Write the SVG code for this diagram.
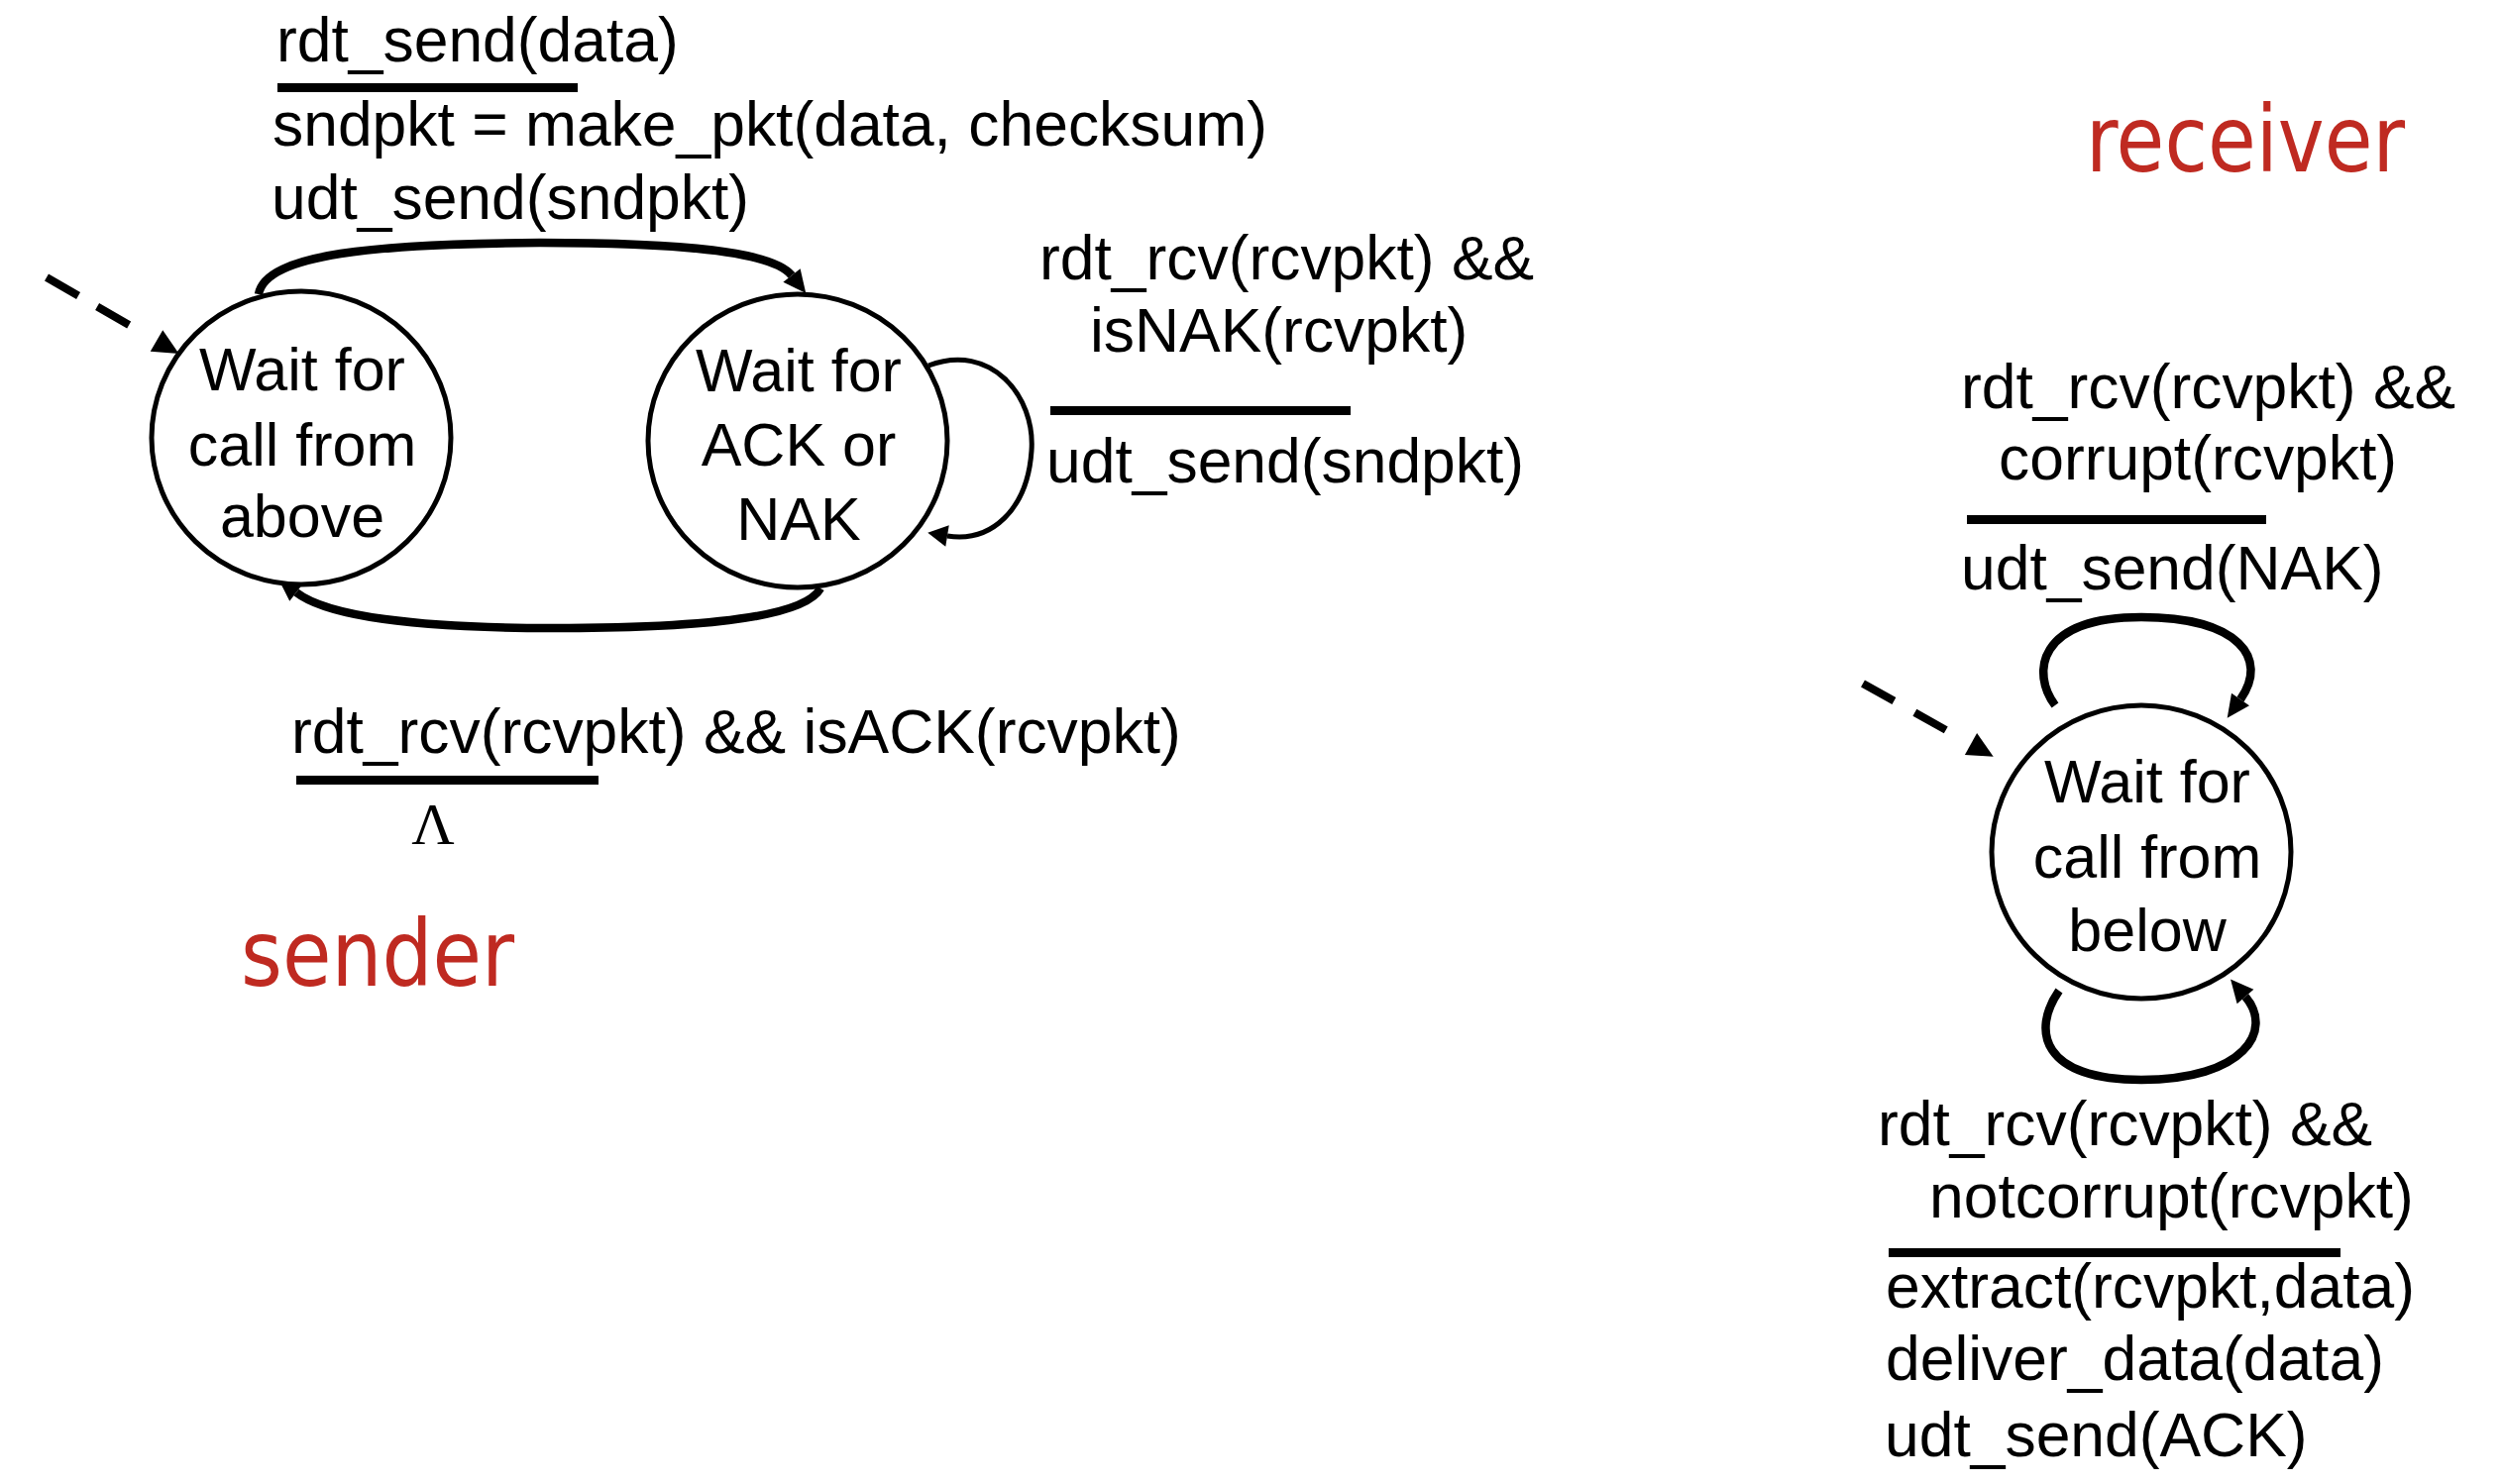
<svg xmlns="http://www.w3.org/2000/svg" width="2526" height="1498" viewBox="0 0 2526 1498">
  <style>
    .state { fill: #ffffff; stroke: #000000; stroke-width: 5; }
    .stext { font-family: "Liberation Sans", Arial, sans-serif; font-size: 61px; fill: #000000; text-anchor: middle; }
    .label { font-family: "Liberation Sans", Arial, sans-serif; font-size: 62.4px; fill: #000000; }
    .lambda { font-family: "Liberation Serif", "Times New Roman", serif; font-size: 60px; fill: #000000; text-anchor: middle; }
    .title { font-family: "DejaVu Sans Condensed", "DejaVu Sans", sans-serif; font-size: 92px; fill: #BF2A21; }
    .bar { fill: #000000; }
    .thick { fill: none; stroke: #000000; stroke-width: 8.5; }
    .thin { fill: none; stroke: #000000; stroke-width: 5; }
    .dash { fill: none; stroke: #000000; stroke-width: 8; }
  </style>
  <defs>
    <marker id="ah-thick" markerUnits="userSpaceOnUse" viewBox="0 -12 24 24" markerWidth="24" markerHeight="24" refX="0" refY="0" orient="auto" overflow="visible">
      <path d="M0,-11 L23,0 L0,11 z" fill="#000000"/>
    </marker>
    <marker id="ah-thin" markerUnits="userSpaceOnUse" viewBox="0 -12 24 24" markerWidth="24" markerHeight="24" refX="0" refY="0" orient="auto" overflow="visible">
      <path d="M0,-11 L20,0 L0,11 z" fill="#000000"/>
    </marker>
    <marker id="ah-dash" markerUnits="userSpaceOnUse" viewBox="0 -13 28 26" markerWidth="28" markerHeight="26" refX="0" refY="0" orient="auto" overflow="visible">
      <path d="M0,-12.5 L26,0 L0,12.5 z" fill="#000000"/>
    </marker>
  </defs>

  <rect x="0" y="0" width="2526" height="1498" fill="#ffffff"/>

  <!-- Connectors -->
  <g id="connectors">
    <path id="init-sender" class="dash" d="M47,280 L158,344" stroke-dasharray="37 22 37 40" marker-end="url(#ah-dash)"/>
    <path id="above-to-ack" class="thick" d="M261,297 C268,256 380,246 545,245 C690,245 780,254 799,278" marker-end="url(#ah-thick)"/>
    <path id="ack-self" class="thin" d="M937,369 C1000,345 1045,400 1041,455 C1037,515 1000,548 956,541" marker-end="url(#ah-thin)"/>
    <path id="ack-to-above" class="thick" d="M828,594 C810,626 690,634 557,634 C420,634 330,622 299,598" marker-end="url(#ah-thick)"/>
    <path id="init-receiver" class="dash" d="M1880,690 L1989,751" stroke-dasharray="36 24 36 40" marker-end="url(#ah-dash)"/>
    <path id="below-self-top" class="thick" d="M2074,712 C2050,680 2055,623 2161,623 C2260,623 2290,665 2261,706" marker-end="url(#ah-thick)"/>
    <path id="below-self-bottom" class="thick" d="M2078,1000 C2050,1040 2060,1090 2161,1090 C2265,1090 2295,1040 2266,1006" marker-end="url(#ah-thick)"/>
  </g>

  <!-- Sender states -->
  <g id="sender-wait-above">
    <ellipse class="state" cx="304" cy="442" rx="151" ry="148"/>
    <text class="stext" x="305" y="394">Wait for</text>
    <text class="stext" x="305" y="470">call from</text>
    <text class="stext" x="305" y="542">above</text>
  </g>
  <g id="sender-wait-ack">
    <ellipse class="state" cx="805" cy="445" rx="151" ry="148"/>
    <text class="stext" x="806" y="395">Wait for</text>
    <text class="stext" x="806" y="470">ACK or</text>
    <text class="stext" x="806" y="545">NAK</text>
  </g>

  <!-- Receiver state -->
  <g id="receiver-wait-below">
    <ellipse class="state" cx="2161" cy="860" rx="151" ry="148"/>
    <text class="stext" x="2167" y="810">Wait for</text>
    <text class="stext" x="2167" y="886">call from</text>
    <text class="stext" x="2167" y="960">below</text>
  </g>

  <!-- Transition labels -->
  <g id="label-send">
    <text class="label" x="279" y="62">rdt_send(data)</text>
    <rect class="bar" x="280" y="84" width="303" height="9"/>
    <text class="label" x="275" y="147">sndpkt = make_pkt(data, checksum)</text>
    <text class="label" x="274" y="221">udt_send(sndpkt)</text>
  </g>
  <g id="label-nak">
    <text class="label" x="1049" y="282">rdt_rcv(rcvpkt) &amp;&amp;</text>
    <text class="label" x="1100" y="355">isNAK(rcvpkt)</text>
    <rect class="bar" x="1060" y="410" width="303" height="9"/>
    <text class="label" x="1056" y="487">udt_send(sndpkt)</text>
  </g>
  <g id="label-ack">
    <text class="label" x="294" y="760">rdt_rcv(rcvpkt) &amp;&amp; isACK(rcvpkt)</text>
    <rect class="bar" x="299" y="783" width="305" height="9"/>
    <text class="lambda" x="437" y="852">Λ</text>
  </g>
  <g id="label-corrupt">
    <text class="label" x="1979" y="412">rdt_rcv(rcvpkt) &amp;&amp;</text>
    <text class="label" x="2017" y="484">corrupt(rcvpkt)</text>
    <rect class="bar" x="1985" y="520" width="302" height="9"/>
    <text class="label" x="1979" y="595">udt_send(NAK)</text>
  </g>
  <g id="label-notcorrupt">
    <text class="label" x="1895" y="1156">rdt_rcv(rcvpkt) &amp;&amp;</text>
    <text class="label" x="1947" y="1229">notcorrupt(rcvpkt)</text>
    <rect class="bar" x="1906" y="1260" width="456" height="9"/>
    <text class="label" x="1903" y="1320">extract(rcvpkt,data)</text>
    <text class="label" x="1903" y="1393">deliver_data(data)</text>
    <text class="label" x="1902" y="1470">udt_send(ACK)</text>
  </g>

  <!-- Titles -->
  <text id="title-sender" class="title" x="243" y="995" textLength="276" lengthAdjust="spacingAndGlyphs">sender</text>
  <text id="title-receiver" class="title" x="2105" y="173" textLength="322" lengthAdjust="spacingAndGlyphs">receiver</text>
</svg>
